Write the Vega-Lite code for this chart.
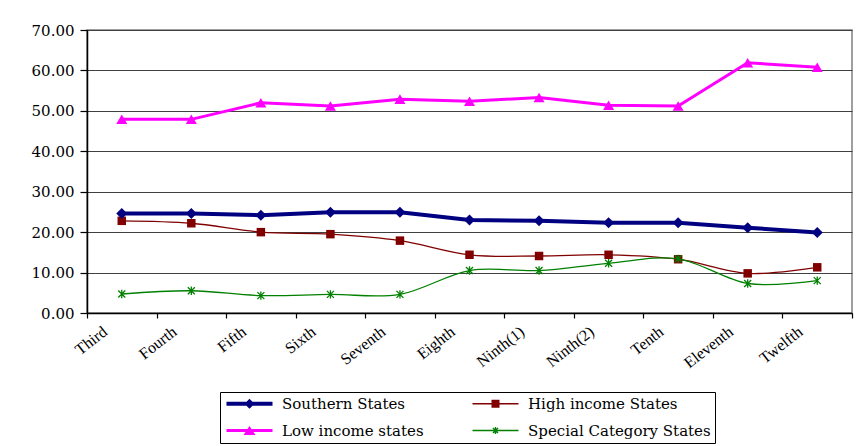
{
  "$schema": "https://vega.github.io/schema/vega-lite/v6.json",
  "width": 765,
  "height": 283,
  "autosize": "none",
  "padding": {"left": 87, "top": 30, "right": 16, "bottom": 133},
  "background": "white",
  "config": {
    "font": "DejaVu Serif",
    "view": {"stroke": "#808080", "strokeWidth": 1.5}
  },
  "data": {
    "values": [
      {"period": "Third", "series": "Southern States", "value": 24.6},
      {"period": "Fourth", "series": "Southern States", "value": 24.6},
      {"period": "Fifth", "series": "Southern States", "value": 24.2},
      {"period": "Sixth", "series": "Southern States", "value": 24.9},
      {"period": "Seventh", "series": "Southern States", "value": 24.9},
      {"period": "Eighth", "series": "Southern States", "value": 23.0},
      {"period": "Ninth(1)", "series": "Southern States", "value": 22.8},
      {"period": "Ninth(2)", "series": "Southern States", "value": 22.3},
      {"period": "Tenth", "series": "Southern States", "value": 22.3},
      {"period": "Eleventh", "series": "Southern States", "value": 21.1},
      {"period": "Twelfth", "series": "Southern States", "value": 19.9},
      {"period": "Third", "series": "High income States", "value": 22.8},
      {"period": "Fourth", "series": "High income States", "value": 22.2},
      {"period": "Fifth", "series": "High income States", "value": 20.0},
      {"period": "Sixth", "series": "High income States", "value": 19.5},
      {"period": "Seventh", "series": "High income States", "value": 17.9},
      {"period": "Eighth", "series": "High income States", "value": 14.4},
      {"period": "Ninth(1)", "series": "High income States", "value": 14.1},
      {"period": "Ninth(2)", "series": "High income States", "value": 14.4},
      {"period": "Tenth", "series": "High income States", "value": 13.3},
      {"period": "Eleventh", "series": "High income States", "value": 9.8},
      {"period": "Twelfth", "series": "High income States", "value": 11.3},
      {"period": "Third", "series": "Low income states", "value": 47.9},
      {"period": "Fourth", "series": "Low income states", "value": 47.9},
      {"period": "Fifth", "series": "Low income states", "value": 52.0},
      {"period": "Sixth", "series": "Low income states", "value": 51.2},
      {"period": "Seventh", "series": "Low income states", "value": 52.9},
      {"period": "Eighth", "series": "Low income states", "value": 52.4},
      {"period": "Ninth(1)", "series": "Low income states", "value": 53.3},
      {"period": "Ninth(2)", "series": "Low income states", "value": 51.4},
      {"period": "Tenth", "series": "Low income states", "value": 51.2},
      {"period": "Eleventh", "series": "Low income states", "value": 61.9},
      {"period": "Twelfth", "series": "Low income states", "value": 60.8},
      {"period": "Third", "series": "Special Category States", "value": 4.7},
      {"period": "Fourth", "series": "Special Category States", "value": 5.5},
      {"period": "Fifth", "series": "Special Category States", "value": 4.3},
      {"period": "Sixth", "series": "Special Category States", "value": 4.6},
      {"period": "Seventh", "series": "Special Category States", "value": 4.6},
      {"period": "Eighth", "series": "Special Category States", "value": 10.5},
      {"period": "Ninth(1)", "series": "Special Category States", "value": 10.5},
      {"period": "Ninth(2)", "series": "Special Category States", "value": 12.3},
      {"period": "Tenth", "series": "Special Category States", "value": 13.4},
      {"period": "Eleventh", "series": "Special Category States", "value": 7.3},
      {"period": "Twelfth", "series": "Special Category States", "value": 8.0}
    ]
  },
  "encoding": {
    "x": {
      "field": "period",
      "type": "nominal",
      "title": null,
      "scale": {
        "type": "band",
        "domain": ["Third", "Fourth", "Fifth", "Sixth", "Seventh", "Eighth", "Ninth(1)", "Ninth(2)", "Tenth", "Eleventh", "Twelfth"],
        "paddingInner": 0,
        "paddingOuter": 0
      },
      "axis": {
        "grid": false,
        "domainColor": "black",
        "domainWidth": 1.5,
        "tickColor": "black",
        "tickWidth": 1.2,
        "tickSize": 5,
        "tickBand": "extent",
        "labelAngle": -38,
        "labelAlign": "right",
        "labelBaseline": "top",
        "labelOffset": -22,
        "labelPadding": 5,
        "labelFont": "Liberation Serif",
        "labelFontSize": 16,
        "labelColor": "black",
        "labelOverlap": false
      }
    },
    "y": {
      "field": "value",
      "type": "quantitative",
      "title": null,
      "scale": {"domain": [0, 70], "nice": false, "zero": true},
      "axis": {
        "values": [0, 10, 20, 30, 40, 50, 60, 70],
        "format": ".2f",
        "grid": true,
        "gridColor": "#404040",
        "gridWidth": 1,
        "domainColor": "black",
        "domainWidth": 1.5,
        "tickColor": "black",
        "tickWidth": 1.2,
        "tickSize": 7,
        "labelPadding": 6,
        "labelFont": "DejaVu Serif",
        "labelFontSize": 15,
        "labelColor": "black"
      }
    }
  },
  "layer": [
    {
      "transform": [{"filter": {"field": "series", "equal": "High income States"}}],
      "mark": {
        "type": "line", "interpolate": "cardinal", "strokeWidth": 1.3, "color": "#800000",
        "point": {"shape": "square", "filled": true, "size": 72, "color": "#800000"}
      }
    },
    {
      "transform": [{"filter": {"field": "series", "equal": "Special Category States"}}],
      "mark": {
        "type": "line", "interpolate": "cardinal", "strokeWidth": 1.3, "color": "#008000",
        "point": {"shape": "M-1,-1L1,1M-1,1L1,-1M0,-1.2L0,1.2", "filled": false, "size": 49, "strokeWidth": 1.3, "color": "#008000"}
      }
    },
    {
      "transform": [{"filter": {"field": "series", "equal": "Low income states"}}],
      "mark": {
        "type": "line", "interpolate": "linear", "strokeWidth": 3, "color": "#FF00FF",
        "point": {"shape": "triangle-up", "filled": true, "size": 121, "color": "#FF00FF"}
      }
    },
    {
      "transform": [{"filter": {"field": "series", "equal": "Southern States"}}],
      "mark": {
        "type": "line", "interpolate": "linear", "strokeWidth": 4, "color": "#000080",
        "point": {"shape": "diamond", "filled": true, "size": 121, "color": "#000080"}
      }
    },
    {
      "transform": [{"filter": "datum.value > 1000"}],
      "mark": {"type": "point", "filled": true},
      "encoding": {
        "color": {
          "field": "series",
          "type": "nominal",
          "scale": {
            "domain": ["Southern States", "Low income states", "High income States", "Special Category States"],
            "range": ["#000080", "#FF00FF", "#800000", "#008000"]
          },
          "legend": {
            "title": null,
            "orient": "none",
            "legendX": 133,
            "legendY": 362,
            "columns": 2,
            "symbolSize": 100,
            "symbolStrokeWidth": 0,
            "symbolOpacity": 1,
            "labelFont": "DejaVu Serif",
            "labelFontSize": 15,
            "labelColor": "black",
            "labelOffset": 43,
            "labelLimit": 400,
            "strokeColor": "black",
            "fillColor": "white",
            "padding": 4,
            "rowPadding": 11,
            "columnPadding": 46
          }
        },
        "shape": {
          "field": "series",
          "type": "nominal",
          "scale": {
            "domain": ["Southern States", "Low income states", "High income States", "Special Category States"],
            "range": [
              "M-1,-0.4H8.2V0.4H-1Z M3.6,-1L4.6,0L3.6,1L2.6,0Z",
              "M-1,-0.3H8.2V0.3H-1Z M3.6,-0.9L4.8,0.9L2.4,0.9Z",
              "M-1,-0.13H8.2V0.13H-1Z M2.8,-0.8H4.4V0.8H2.8Z",
              "M-1,-0.13H8.2V0.13H-1Z M3.46,-0.7H3.74V0.7H3.46Z M3.2,-0.6L4.2,0.4L4.0,0.6L3.0,-0.4Z M3.0,0.4L4.0,-0.6L4.2,-0.4L3.2,0.6Z"
            ]
          },
          "legend": {
            "title": null,
            "orient": "none",
            "legendX": 133,
            "legendY": 362,
            "columns": 2,
            "symbolSize": 100,
            "symbolStrokeWidth": 0,
            "symbolOpacity": 1,
            "labelFont": "DejaVu Serif",
            "labelFontSize": 15,
            "labelColor": "black",
            "labelOffset": 43,
            "labelLimit": 400,
            "strokeColor": "black",
            "fillColor": "white",
            "padding": 4,
            "rowPadding": 11,
            "columnPadding": 46
          }
        }
      }
    }
  ]
}
